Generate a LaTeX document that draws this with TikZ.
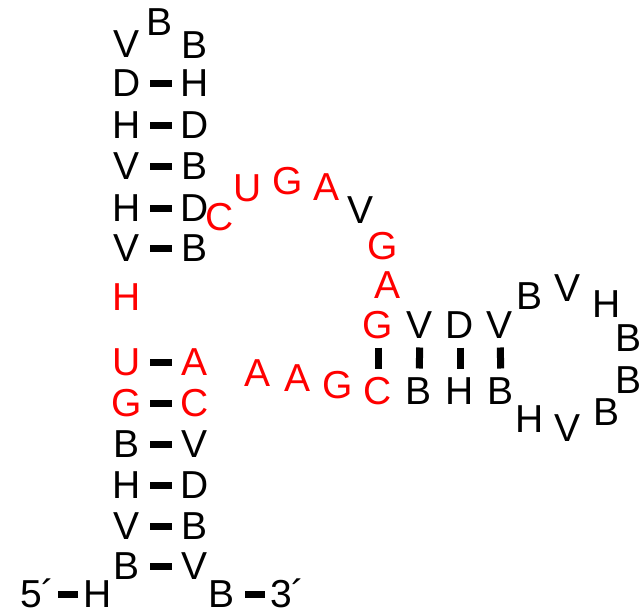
\documentclass[tikz,border=0pt]{standalone}
\usepackage{fontspec}
\setmainfont{Liberation Sans}
\begin{document}
\begin{tikzpicture}[x=1pt,y=-1pt,
  nt/.style={font=\fontsize{39}{39}\selectfont, inner sep=0pt, text height=27.9pt, text depth=0pt, anchor=center},
  rn/.style={nt, text=red},
  bp/.style={line width=7pt, shorten <=23pt, shorten >=23pt},
  vbp/.style={line width=7pt, shorten <=22.5pt, shorten >=22.5pt}]
\useasboundingbox (0,0) rectangle (641,613);
% top of left stem
\node[nt] (t1) at (127,44) {V};
\node[nt] (t2) at (160,22) {B};
\node[nt] (t3) at (195,45) {B};
% left stem upper helix
\node[nt] (a1) at (127,83) {D};  \node[nt] (b1) at (195,83) {H};
\node[nt] (a2) at (127,125) {H}; \node[nt] (b2) at (195,125) {D};
\node[nt] (a3) at (127,166) {V}; \node[nt] (b3) at (195,166) {B};
\node[nt] (a4) at (127,208) {H}; \node[nt] (b4) at (195,208) {D};
\node[nt] (a5) at (127,248) {V}; \node[nt] (b5) at (195,248) {B};
\foreach \i in {1,...,5} \draw[bp] (a\i.center) -- (b\i.center);
% red H
\node[rn] (rh) at (127,297) {H};
% lower helix
\node[rn] (c1) at (127,362) {U}; \node[rn] (d1) at (195,362) {A};
\node[rn] (c2) at (127,403) {G}; \node[rn] (d2) at (195,403) {C};
\node[nt] (c3) at (127,444) {B}; \node[nt] (d3) at (195,444) {V};
\node[nt] (c4) at (127,485) {H}; \node[nt] (d4) at (195,485) {D};
\node[nt] (c5) at (127,526) {V}; \node[nt] (d5) at (195,526) {B};
\node[nt] (c6) at (127,566) {B}; \node[nt] (d6) at (195,566) {V};
\foreach \i in {1,...,6} \draw[bp] (c\i.center) -- (d\i.center);
% ends
\node[nt] (p5) at (37.4,594) {5´};
\node[nt] (e1) at (98,594) {H};
\node[nt] (e2) at (222,594) {B};
\node[nt] (p3) at (287.4,594) {3´};
\draw[line width=7pt, shorten <=20.6pt, shorten >=20pt] (p5.center) -- (e1.center);
\draw[line width=7pt, shorten <=23pt, shorten >=22.4pt] (e2.center) -- (p3.center);
% multiloop
\node[rn] (m1) at (220,217) {C};
\node[rn] (m2) at (248,188) {U};
\node[rn] (m3) at (288,181) {G};
\node[rn] (m4) at (327,187) {A};
\node[nt] (m5) at (361,210) {V};
\node[rn] (m6) at (383,246) {G};
\node[rn] (m7) at (388,285) {A};
% right helix
\node[rn] (g1) at (378,325) {G}; \node[rn] (h1) at (378,391) {C};
\node[nt] (g2) at (420,325) {V}; \node[nt] (h2) at (419,391) {B};
\node[nt] (g3) at (460,325) {D}; \node[nt] (h3) at (460,391) {H};
\node[nt] (g4) at (500,325) {V}; \node[nt] (h4) at (501,391) {B};
\foreach \i in {1,...,4} \draw[vbp] (g\i.center) -- (h\i.center);
% hairpin loop
\node[nt] (l1) at (530,296) {B};
\node[nt] (l2) at (568,288) {V};
\node[nt] (l3) at (607,304) {H};
\node[nt] (l4) at (629,338) {B};
\node[nt] (l5) at (629,380) {B};
\node[nt] (l6) at (607,412) {B};
\node[nt] (l7) at (568,428) {V};
\node[nt] (l8) at (530,419) {H};
% junction
\node[rn] (j1) at (338,385) {G};
\node[rn] (j2) at (298,378) {A};
\node[rn] (j3) at (258,373) {A};
\end{tikzpicture}
\end{document}
